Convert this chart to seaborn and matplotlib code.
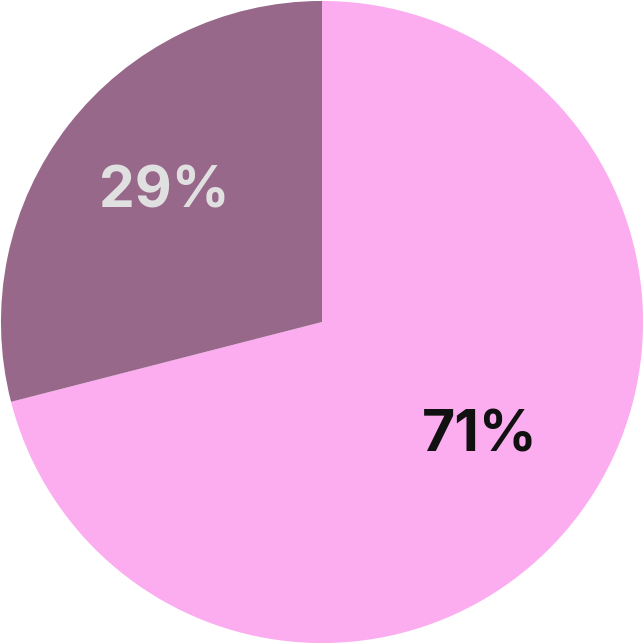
import matplotlib
matplotlib.use("Agg")
import matplotlib.pyplot as plt
import seaborn as sns

labels = ["A", "B"]
values = [71, 29]
colors = ["#FBADF0", "#98688B"]
text_colors = ["#111111", "#E0E0E0"]

sns.set_theme(style="white")
plt.rcParams['font.family'] = ['Inter', 'DejaVu Sans']

fig = plt.figure(figsize=(6.44, 6.44), dpi=100)
ax = fig.add_axes([0, 0, 1, 1])
wedges, texts, autotexts = ax.pie(
    values, colors=colors, startangle=90, counterclock=False,
    autopct=lambda p: f"{p:.0f}%", pctdistance=0.62, radius=1.0,
    wedgeprops=dict(linewidth=0),
    textprops=dict(fontsize=41, fontweight="bold"))
for t, c in zip(autotexts, text_colors):
    t.set_color(c)
    x, y = t.get_position()
    t.set_position((x, y + 0.022))
ax.set_xlim(-1.003, 1.003)
ax.set_ylim(-1.003, 1.003)
ax.set_aspect("equal")
ax.axis("off")
fig.savefig("out.png", dpi=100, facecolor="white")
